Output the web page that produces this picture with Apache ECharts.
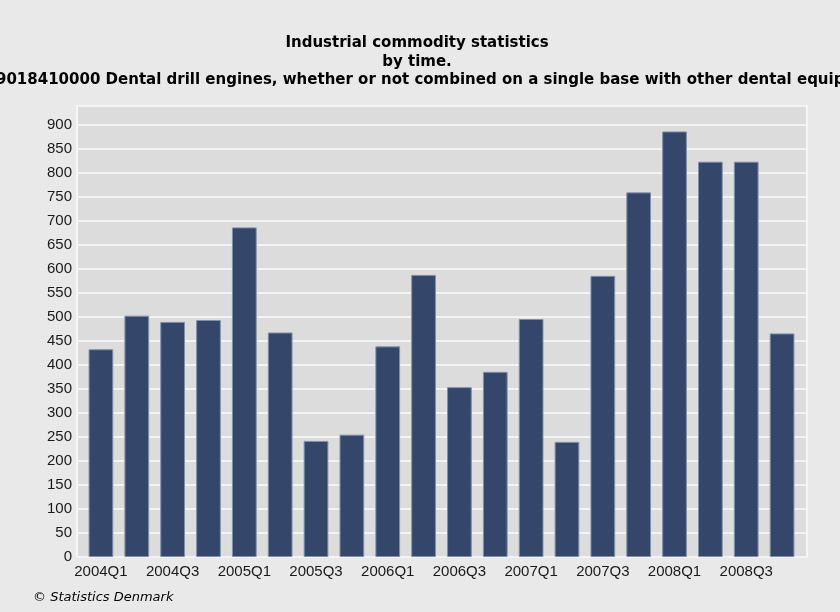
<!DOCTYPE html>
<html>
<head>
<meta charset="utf-8">
<script src="https://cdn.jsdelivr.net/npm/echarts@6/dist/echarts.min.js"></script>
<style>
  html, body { margin: 0; padding: 0; background: #e9e9e9; }
  #chart { width: 840px; height: 612px; }
</style>
</head>
<body>
<div id="chart"></div>
<script>
// quarters shown on the x axis
const quarters = [
  '2004Q1', '2004Q2', '2004Q3', '2004Q4',
  '2005Q1', '2005Q2', '2005Q3', '2005Q4',
  '2006Q1', '2006Q2', '2006Q3', '2006Q4',
  '2007Q1', '2007Q2', '2007Q3', '2007Q4',
  '2008Q1', '2008Q2', '2008Q3', '2008Q4'
]

// number of units per quarter
const units = [
  433, 503, 490, 494,
  687, 468, 242, 255,
  439, 588, 354, 386,
  496, 240, 586, 760,
  887, 824, 824, 466
]

const titleLines = [
  'Industrial commodity statistics',
  'by time.',
  '9018410000 Dental drill engines, whether or not combined on a single base with other dental equipment (number)'
]
const sourceText = '© Statistics Denmark'

const chart = echarts.init(document.getElementById('chart'))

const titleFont = {
  fontFamily: 'DejaVu Sans',
  fontWeight: 'bold',
  fontSize: 15,
  color: '#000'
}
const labelFont = {
  fontFamily: 'Liberation Sans',
  fontSize: 15,
  color: '#1a1a1a'
}

const yMax = 940

const option = {
  backgroundColor: '#e9e9e9',
  animation: false,
  title: [
    { text: titleLines[0], left: 417, top: 36, padding: 0, textAlign: 'center', textStyle: titleFont },
    { text: titleLines[1], left: 417, top: 55, padding: 0, textAlign: 'center', textStyle: titleFont },
    { text: titleLines[2], left: -4, top: 73, padding: 0, textAlign: 'left', textStyle: titleFont },
    {
      text: sourceText, left: 33, top: 591, padding: 0,
      textStyle: { fontFamily: 'DejaVu Sans', fontStyle: 'italic', fontWeight: 'normal', fontSize: 13, color: '#000' }
    }
  ],
  // grid 0: plot background, gridlines and y labels; grid 1: the bars, inset a little
  grid: [
    {
      show: true,
      left: 77, right: 33, top: 106, bottom: 55,
      backgroundColor: '#dcdcdc',
      borderColor: '#f6f6f6',
      borderWidth: 2
    },
    { left: 83, right: 40, top: 106, bottom: 55 }
  ],
  xAxis: [
    { gridIndex: 0, type: 'category', data: quarters, show: false },
    {
      gridIndex: 1,
      type: 'category',
      data: quarters,
      axisLine: { show: false },
      axisTick: { show: false },
      axisLabel: Object.assign({ interval: 1, margin: 7 }, labelFont)
    }
  ],
  yAxis: [
    {
      gridIndex: 0,
      type: 'value',
      min: 0,
      max: yMax,
      interval: 50,
      axisLine: { show: false },
      axisTick: { show: false },
      axisLabel: Object.assign({ showMaxLabel: false, margin: 5 }, labelFont),
      splitLine: { lineStyle: { color: '#f3f3f3', width: 2 } }
    },
    {
      gridIndex: 1,
      type: 'value',
      min: 0,
      max: yMax,
      interval: 50,
      show: false,
      splitLine: { show: false }
    }
  ],
  series: [
    {
      type: 'bar',
      xAxisIndex: 1,
      yAxisIndex: 1,
      data: units,
      barCategoryGap: '31%',
      itemStyle: {
        color: '#34476b',
        borderColor: '#8390ab',
        borderWidth: 1
      }
    }
  ]
}

chart.setOption(option)
</script>
</body>
</html>
